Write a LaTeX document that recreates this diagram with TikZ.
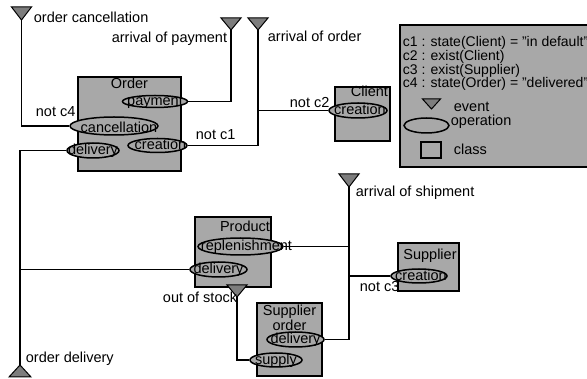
\documentclass[tikz,border=0pt]{standalone}
\usepackage{fontspec}
\setmainfont{Liberation Sans}
\usetikzlibrary{shapes.geometric}
\definecolor{boxgray}{RGB}{168,168,168}
\definecolor{evgray}{RGB}{125,125,125}
\begin{document}
\begin{tikzpicture}[x=1pt,y=-1pt,line width=1.8pt,line cap=butt,
		font=\fontsize{14.5}{15}\selectfont,
		cls/.style={draw,fill=boxgray,line width=1.8pt,inner sep=0},
		op/.style={ellipse,draw,fill=boxgray,line width=1.5pt,inner sep=0},
		oplabel/.style={inner sep=0,text height=10pt,text depth=3pt,yshift=-1pt},
		evt/.style={draw,fill=evgray,line width=1pt,line join=miter},
		txt/.style={inner sep=0,anchor=base west},
		keytxt/.style={txt,font=\fontsize{14}{15}\selectfont},
		title/.style={inner sep=0,anchor=base}]
	\useasboundingbox (0,0) rectangle (587,379);

	% classes
	\node[cls,minimum width=103,minimum height=94] (order) at (129.5,124) {};
	\node[cls,minimum width=55,minimum height=54] (client) at (362.5,114) {};
	\node[cls,minimum width=76,minimum height=70] (product) at (233,252) {};
	\node[cls,minimum width=61,minimum height=48] (supplier) at (428.5,267) {};
	\node[cls,minimum width=65,minimum height=73] (sorder) at (289.5,339.5) {};
	\node[title] (ordertitle) at ([yshift=-12pt]order.north) {Order};
	\node[title,anchor=base east] (clienttitle) at ([xshift=-2pt,yshift=-10pt]client.north east) {Client};
	\node[title,anchor=base east] (producttitle) at ([xshift=-1pt,yshift=-15pt]product.north east) {Product};
	\node[title] (suppliertitle) at ([xshift=1.5pt,yshift=-17pt]supplier.north) {Supplier};
	\node[inner sep=0,anchor=north,align=center] (sordertitle) at ([yshift=-2pt]sorder.north) {Supplier\\order};

	% operations
	\node[op,minimum width=65,minimum height=12,label={[oplabel]center:payment}] (pay) at (155,101.5) {};
	\node[op,minimum width=88,minimum height=18,label={[oplabel,xshift=5pt,yshift=-2pt]center:cancellation}] (cancel) at (114,126) {};
	\node[op,minimum width=59,minimum height=14,label={[oplabel,xshift=3pt]center:creation}] (ocreate) at (157.5,145.5) {};
	\node[op,minimum width=52,minimum height=15,label={[oplabel]center:delivery}] (odeliv) at (93,150.5) {};
	\node[op,minimum width=58,minimum height=15,label={[oplabel,xshift=2pt]center:creation}] (ccreate) at (358,110.5) {};
	\node[op,minimum width=85,minimum height=17,label={[oplabel,xshift=6pt]center:replenishment}] (replen) at (240.5,246.5) {};
	\node[op,minimum width=57,minimum height=15,label={[oplabel]center:delivery}] (pdeliv) at (218.5,269.5) {};
	\node[op,minimum width=57,minimum height=15,label={[oplabel]center:delivery}] (sodeliv) at (295.5,339.5) {};
	\node[op,minimum width=52,minimum height=14,label={[oplabel]center:supply}] (supply) at (276,360) {};
	\node[op,minimum width=56,minimum height=14,label={[oplabel,xshift=2pt]center:creation}] (screate) at (419,276) {};

	% events
	\coordinate (ecancel) at (21.5,20);
	\coordinate (epay) at (231,30);
	\coordinate (eorder) at (258,30);
	\coordinate (eship) at (349,187);
	\coordinate (estock) at (237,297);
	\coordinate (edeliv) at (20,365);

	\draw (ecancel) |- (cancel);
	\draw (epay) |- (pay);
	\draw (eorder) |- (ocreate);
	\draw (eorder |- ccreate) -- (ccreate);
	\draw (odeliv) -| (edeliv);
	\draw (pdeliv) -- (edeliv |- pdeliv);
	\draw (estock) |- (supply);
	\draw (eship) |- (sodeliv);
	\draw (eship |- replen) -- (replen);
	\draw (eship |- screate) -- (screate);

	\filldraw[evt] (ecancel) -- ++(-10,-13) -- ++(20,0) -- cycle;
	\filldraw[evt] (epay) -- ++(-10,-12) -- ++(20,0) -- cycle;
	\filldraw[evt] (eorder) -- ++(-10,-12) -- ++(20,0) -- cycle;
	\filldraw[evt] (eship) -- ++(-10,-13) -- ++(20,0) -- cycle;
	\filldraw[evt] (estock) -- ++(-10,-12) -- ++(20,0) -- cycle;
	\filldraw[evt] (edeliv) -- ++(-11,12) -- ++(22,0) -- cycle;

	\node[txt] (lcancel) at (33,23) {order cancellation};
	\node[txt,anchor=base east] (lpay) at (228,43) {arrival of payment};
	\node[txt] (lorder) at (267,42) {arrival of order};
	\node[txt] (lnotcfour) at (35,117) {not c4};
	\node[txt] (lnotcone) at (195,140) {not c1};
	\node[txt] (lnotctwo) at (289,108) {not c2};
	\node[txt] (lship) at (355,197) {arrival of shipment};
	\node[txt] (lnotcthree) at (359,292) {not c3};
	\node[txt,anchor=base east] (lstock) at (238,303) {out of stock};
	\node[txt] (ldeliv) at (25,363) {order delivery};

	% legend
	\node[cls,minimum width=195,minimum height=142] (legend) at (497.5,96) {};
	\node[keytxt] (cone) at (402,47) {c1 : state(Client) = "in default"};
	\node[keytxt] (ctwo) at (402,61) {c2 : exist(Client)};
	\node[keytxt] (cthree) at (402,75) {c3 : exist(Supplier)};
	\node[keytxt] (cfour) at (402,88) {c4 : state(Order) = "delivered"};
	\coordinate (kevent) at (431.5,109);
	\filldraw[evt] (kevent) -- ++(-9,-10) -- ++(18,0) -- cycle;
	\node[txt] (keventtext) at (453,112) {event};
	\node[op,minimum width=45,minimum height=15] (kop) at (426.5,125.5) {};
	\node[txt] (koptext) at (450,126) {operation};
	\node[draw,line width=1.8pt,inner sep=0,minimum width=20,minimum height=16] (kclass) at (431,150) {};
	\node[txt] (kclasstext) at (453,155) {class};
\end{tikzpicture}
\end{document}
